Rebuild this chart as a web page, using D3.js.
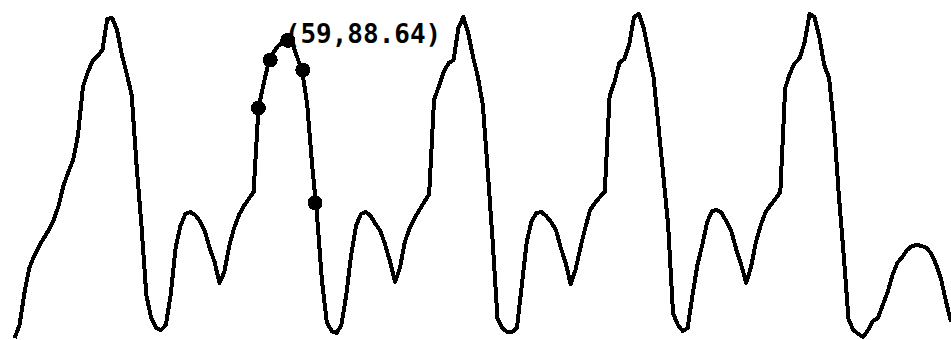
<!DOCTYPE html>
<html>
<head>
<meta charset="utf-8">
<script src="https://cdn.jsdelivr.net/npm/d3@7/dist/d3.min.js"></script>
<style>
  html, body { margin: 0; padding: 0; background: #fff; }
  svg { display: block; }
</style>
</head>
<body>
<svg id="chart" width="951" height="340"></svg>
<script>
// Signal samples: x index starts at 3
const startIndex = 3;
const values = [
  -30.4, -25.2, -12.4, -2.4, 2.4, 6.4, 9.6, 12.8, 16.8, 22.4,
  30.4, 36, 40.8, 50.8, 70, 76, 80.4, 82.4, 84.8, 97.2,
  97.6, 92.8, 82.8, 75.2, 66.8, 38.8, 14.8, -13.2, -22.4, -26.4,
  -27.2, -25.2, -13.2, 5.6, 14.4, 19.2, 20, 18.8, 16.4, 12.4,
  5.6, 0, -8.4, -4, 6.4, 13.6, 18.8, 22.4, 25.2, 28,
  61.6, 70.8, 79.2, 83.6, 86.4, 88, 88.64, 87.2, 81.6, 76,
  62.8, 38.8, 18.8, -7.2, -24, -27.6, -28.4, -25.2, -13.2, 2.8,
  14.4, 19.2, 20, 18.4, 15.2, 12.4, 6.8, 0, -8, -2.4,
  8, 13.6, 17.6, 20.8, 24, 27.2, 64.8, 70.4, 76, 79.6,
  80.8, 93.6, 98, 91.6, 82, 74, 62.8, 36.8, 8.8, -22.4,
  -26.4, -28, -28, -26.4, -9.2, 8, 16.4, 19.6, 20, 18.4,
  16, 12.8, 5.6, -0.4, -8.8, -3.2, 5.6, 13.6, 20.8, 23.6,
  26, 28, 66.4, 72, 79.6, 81.2, 86.8, 98, 99.2, 93.6,
  83.6, 74, 54.8, 34.8, 14.8, -20.4, -25.2, -27.6, -26.4, -13.2,
  -1.2, 6.8, 16, 20.4, 20.8, 19.6, 16, 12, 4.8, -1.2,
  -8.4, -2, 8, 14.8, 20, 22.8, 25.2, 28, 69.6, 75.6,
  79.6, 81.6, 88, 99.2, 98, 90, 78.8, 73.6, 54.8, 26.8,
  2.8, -23.2, -27.2, -28.8, -30, -27.2, -23.6, -22.4, -17.2, -12,
  -5.2, -0.4, 2, 4.8, 6.4, 6.8, 6.4, 5.6, 3.2, -1.2,
  -7.2, -16, -24
];
// Highlighted points around the selected sample
const dotX = [53, 55.4, 59, 62.1, 64.6];
const dotY = [61.6, 80.8, 88.64, 76.8, 23.6];
const selected = { x: 59, y: 88.64 };

const data = values.map((v, i) => ({ x: startIndex + i, y: v }));
const dots = dotX.map((x, i) => ({ x: x, y: dotY[i] }));

const svg = d3.select("#chart");

const x = d3.scaleLinear().domain([0, 195]).range([0, 951]);
const y = d3.scaleLinear().domain([-30, 100]).range([337, 12]);

const line = d3.line().x(d => x(d.x)).y(d => y(d.y));

svg.append("path")
  .datum(data)
  .attr("d", line)
  .attr("fill", "none")
  .attr("stroke", "#000")
  .attr("stroke-width", 4)
  .attr("stroke-linejoin", "round")
  .attr("shape-rendering", "crispEdges");

svg.selectAll("circle.dot")
  .data(dots)
  .enter().append("circle")
  .attr("class", "dot")
  .attr("cx", d => x(d.x))
  .attr("cy", d => y(d.y))
  .attr("r", 7.5)
  .attr("fill", "#000")
  .attr("shape-rendering", "crispEdges");

svg.append("text")
  .attr("x", x(selected.x) - 3)
  .attr("y", y(selected.y) + 3)
  .attr("font-family", "DejaVu Sans Mono")
  .attr("font-weight", "bold")
  .attr("font-size", 26)
  .attr("fill", "#000")
  .text(`(${selected.x},${selected.y})`);
</script>
</body>
</html>
